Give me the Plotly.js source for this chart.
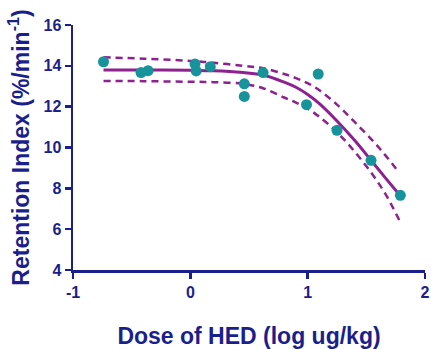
<!DOCTYPE html>
<html>
<head>
<meta charset="utf-8">
<script src="https://cdn.plot.ly/plotly-3.0.1.min.js"></script>
<style>html,body{margin:0;padding:0;background:#fff;}#chart{width:431px;height:349px;}</style>
</head>
<body>
<div id="chart"></div>
<script>
// Observed data points (log dose, retention index)
const doseX = [-0.74, -0.42, -0.36, 0.04, 0.05, 0.17, 0.46, 0.46, 0.62, 0.99, 1.09, 1.25, 1.54, 1.79];
const retentionY = [14.20, 13.67, 13.76, 14.09, 13.75, 13.96, 13.12, 12.50, 13.67, 12.10, 13.60, 10.84, 9.37, 7.66];

// Fitted curve
const fitX = [-0.74, -0.4, 0, 0.2, 0.45, 0.62, 0.8, 0.9, 1.0, 1.1, 1.25, 1.4, 1.55, 1.65, 1.78];
const fitY = [13.80, 13.80, 13.78, 13.76, 13.67, 13.55, 13.20, 12.95, 12.60, 12.15, 11.30, 10.35, 9.30, 8.60, 7.70];

// Upper confidence band
const upperX = [-0.74, -0.4, 0, 0.2, 0.45, 0.62, 0.8, 0.9, 1.0, 1.1, 1.25, 1.4, 1.6, 1.78];
const upperY = [14.42, 14.35, 14.24, 14.15, 14.00, 13.88, 13.60, 13.40, 13.15, 12.80, 12.10, 11.25, 10.04, 8.77];

// Lower confidence band
const lowerX = [-0.74, -0.4, 0, 0.2, 0.45, 0.62, 0.8, 0.9, 1.0, 1.1, 1.25, 1.4, 1.55, 1.67, 1.78];
const lowerY = [13.26, 13.25, 13.22, 13.20, 13.12, 12.90, 12.45, 12.20, 11.90, 11.50, 10.75, 9.80, 8.70, 7.65, 6.45];

const xTicks = [-1, 0, 1, 2];
const yTicks = [4, 6, 8, 10, 12, 14, 16];

const navy = '#1b1f8c';
const purple = '#8d2190';
const teal = '#17949b';

const traces = [
  {x: upperX, y: upperY, mode: 'lines', line: {color: purple, width: 2.5, dash: '7px,5px', shape: 'spline', smoothing: 1}, hoverinfo: 'skip'},
  {x: lowerX, y: lowerY, mode: 'lines', line: {color: purple, width: 2.5, dash: '7px,5px', shape: 'spline', smoothing: 1}, hoverinfo: 'skip'},
  {x: fitX, y: fitY, mode: 'lines', line: {color: purple, width: 3, shape: 'spline', smoothing: 1}},
  {x: doseX, y: retentionY, mode: 'markers', marker: {color: teal, size: 11}, cliponaxis: false}
];

const layout = {
  width: 431, height: 349,
  margin: {l: 73, r: 6, t: 25, b: 79},
  paper_bgcolor: '#fff', plot_bgcolor: '#fff',
  showlegend: false,
  font: {family: 'Liberation Sans, Arial, sans-serif', color: navy},
  xaxis: {
    range: [-1, 2], tickvals: xTicks, ticktext: xTicks.map(String),
    showgrid: false, zeroline: false, showline: true, linecolor: navy, linewidth: 2.5,
    ticks: 'outside', ticklen: 6, tickwidth: 2.5, tickcolor: navy,
    tickfont: {size: 16, color: navy, weight: 'bold'},
    title: {text: '<b>Dose of HED (log ug/kg)</b>', font: {size: 23, color: navy}, standoff: 28}
  },
  yaxis: {
    range: [4, 16], tickvals: yTicks, ticktext: yTicks.map(String),
    showgrid: false, zeroline: false, showline: true, linecolor: navy, linewidth: 2.5,
    ticks: 'outside', ticklen: 6, tickwidth: 2.5, tickcolor: navy,
    tickfont: {size: 16, color: navy, weight: 'bold'},
    title: {text: '<b>Retention Index (%/min<sup>-1</sup>)</b>', font: {size: 23, color: navy}, standoff: 8}
  }
};

Plotly.newPlot('chart', traces, layout, {displayModeBar: false, staticPlot: true});
</script>
</body>
</html>
